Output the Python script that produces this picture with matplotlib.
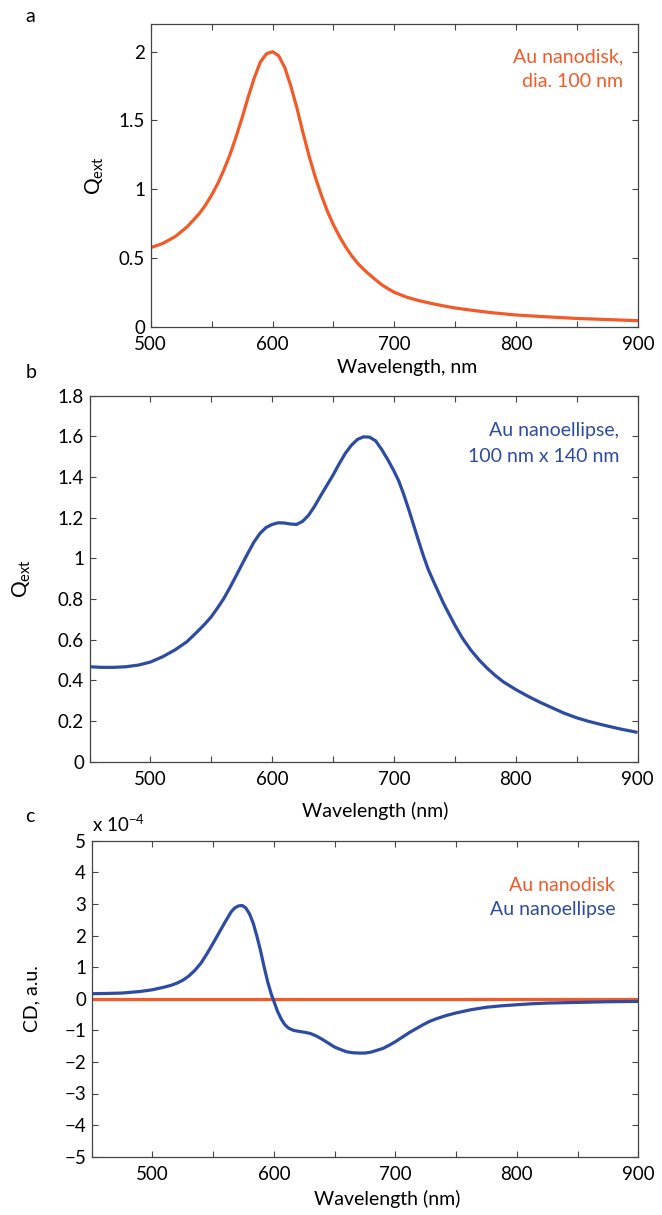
import matplotlib
matplotlib.use("Agg")
import matplotlib.pyplot as plt
from matplotlib.ticker import MultipleLocator, FuncFormatter

plt.rcParams['font.family'] = ['Lato', 'DejaVu Sans']
plt.rcParams['mathtext.default'] = 'regular'
plt.rcParams['axes.unicode_minus'] = True

# panel a: Au nanodisk extinction
wl_a = [500, 510, 520, 530, 540, 545, 550, 555, 560, 565, 570, 575, 580, 585, 590, 595,
        600, 605, 610, 615, 620, 625, 630, 635, 640, 645, 650, 655, 660, 665, 670, 675,
        680, 685, 690, 695, 700, 710, 720, 730, 740, 750, 765, 780, 800, 825, 850, 875, 900]
q_disk = [0.575, 0.606, 0.655, 0.727, 0.824, 0.885, 0.958, 1.04, 1.14, 1.25, 1.38, 1.52,
          1.67, 1.81, 1.925, 1.985, 2.0, 1.97, 1.885, 1.75, 1.59, 1.41, 1.24, 1.09, 0.958,
          0.84, 0.74, 0.655, 0.58, 0.515, 0.46, 0.415, 0.376, 0.338, 0.303, 0.275, 0.25,
          0.215, 0.19, 0.17, 0.152, 0.136, 0.118, 0.102, 0.085, 0.072, 0.06, 0.052, 0.044]

# panel b: Au nanoellipse extinction
wl_b = [450, 460, 470, 480, 490, 500, 510, 520, 530, 540, 545, 550, 555, 560, 565, 570,
        575, 580, 585, 590, 595, 600, 605, 610, 615, 620, 625, 630, 635, 640, 645, 650,
        655, 660, 665, 670, 675, 680, 685, 690, 695, 700, 704, 708, 712, 716, 720, 724,
        728, 733, 741, 750, 756, 763, 770, 777, 784, 790, 800, 810, 820, 831, 840, 850,
        860, 872, 885, 900]
q_ellipse = [0.467, 0.464, 0.464, 0.467, 0.475, 0.49, 0.516, 0.549, 0.59, 0.648, 0.679,
             0.713, 0.755, 0.80, 0.853, 0.91, 0.968, 1.025, 1.08, 1.123, 1.152, 1.167,
             1.175, 1.174, 1.169, 1.167, 1.182, 1.213, 1.258, 1.31, 1.36, 1.41, 1.465,
             1.516, 1.556, 1.585, 1.598, 1.596, 1.578, 1.535, 1.485, 1.43, 1.38, 1.315,
             1.243, 1.167, 1.09, 1.016, 0.948, 0.88, 0.775, 0.672, 0.61, 0.55, 0.5,
             0.457, 0.42, 0.392, 0.355, 0.322, 0.292, 0.262, 0.238, 0.216, 0.198, 0.18,
             0.162, 0.144]

# panel c: circular dichroism (x 1e-4)
wl_c = [450, 465, 475, 490, 500, 510, 515, 520, 525, 530, 535, 540, 545, 550, 555, 560,
        565, 568, 571, 574, 577, 580, 583, 586, 589, 592, 595, 598, 600, 603, 606, 609,
        612, 616, 620, 625, 630, 635, 640, 645, 650, 655, 660, 665, 670, 675, 680, 685,
        690, 695, 700, 706, 712, 717, 723, 728, 734, 742, 750, 762, 775, 787, 800, 812,
        825, 850, 875, 900]
cd_ellipse = [0.158, 0.17, 0.18, 0.23, 0.284, 0.37, 0.42, 0.49, 0.585, 0.72, 0.9, 1.13,
              1.43, 1.76, 2.1, 2.44, 2.76, 2.88, 2.94, 2.95, 2.87, 2.68, 2.39, 1.98, 1.52,
              1.0, 0.52, 0.126, -0.08, -0.4, -0.64, -0.82, -0.93, -1.0, -1.03, -1.06, -1.1,
              -1.18, -1.29, -1.41, -1.53, -1.61, -1.68, -1.71, -1.72, -1.72, -1.69, -1.63,
              -1.57, -1.47, -1.36, -1.21, -1.06, -0.95, -0.82, -0.72, -0.63, -0.53, -0.45,
              -0.35, -0.27, -0.225, -0.19, -0.16, -0.137, -0.116, -0.095, -0.084]
wl_disk_cd = [450, 900]
cd_disk = [0.0, 0.0]

orange = '#F25A28'
blue = '#2E4BA3'
fs_tick = 13.5
fs = 14


def style(ax):
    ax.tick_params(which='both', direction='in', top=True, right=True,
                   length=4, width=0.8, color='#444444', labelsize=fs_tick)
    ax.tick_params(axis='y', pad=4)
    ax.tick_params(axis='x', pad=7)
    for s in ax.spines.values():
        s.set_color('#444444')
        s.set_linewidth(0.9)
    ax.xaxis.set_major_locator(MultipleLocator(50))
    ax.xaxis.set_major_formatter(FuncFormatter(lambda v, p: '%d' % v if v % 100 == 0 else ''))


fig = plt.figure(figsize=(6.62, 12.15), dpi=100)
lkw = dict(lw=2.3, solid_joinstyle='round', solid_capstyle='butt')

# ---- a ----
ax1 = fig.add_axes([0.2277, 0.7311, 0.7361, 0.249])
ax1.plot(wl_a, q_disk, color=orange, **lkw)
ax1.set_xlim(500, 900)
ax1.set_ylim(0, 2.2)
ax1.set_yticks([0, 0.5, 1, 1.5, 2])
ax1.set_yticklabels(['0', '0.5', '1', '1.5', '2'])
style(ax1)
ax1.set_xlabel('Wavelength, nm', fontsize=fs)
ax1.xaxis.set_label_coords(0.527, -0.107)
ax1.set_ylabel('$Q_{ext}$', fontsize=fs + 1)
ax1.yaxis.set_label_coords(-0.0925, 0.5)
ax1.text(888, 1.96, 'Au nanodisk,', color=orange, fontsize=fs, ha='right', va='center')
ax1.text(888, 1.78, 'dia. 100 nm', color=orange, fontsize=fs, ha='right', va='center')
fig.text(30 / 662, 1 - 17 / 1215, 'a', fontsize=fs, ha='center', va='center')

# ---- b ----
ax2 = fig.add_axes([0.1352, 0.3731, 0.8278, 0.3012])
ax2.plot(wl_b, q_ellipse, color=blue, **lkw)
ax2.set_xlim(450, 900)
ax2.set_ylim(0, 1.8)
ax2.set_yticks([0, 0.2, 0.4, 0.6, 0.8, 1, 1.2, 1.4, 1.6, 1.8])
ax2.set_yticklabels(['0', '0.2', '0.4', '0.6', '0.8', '1', '1.2', '1.4', '1.6', '1.8'])
style(ax2)
ax2.set_xlabel('Wavelength (nm)', fontsize=fs)
ax2.xaxis.set_label_coords(0.521, -0.110)
ax2.set_ylabel('$Q_{ext}$', fontsize=fs + 1)
ax2.yaxis.set_label_coords(-0.103, 0.5)
ax2.text(885, 1.63, 'Au nanoellipse,', color=blue, fontsize=fs, ha='right', va='center')
ax2.text(885, 1.50, '100 nm x 140 nm', color=blue, fontsize=fs, ha='right', va='center')
fig.text(31 / 662, 1 - 373 / 1215, 'b', fontsize=fs, ha='center', va='center')

# ---- c ----
ax3 = fig.add_axes([0.1385, 0.048, 0.8257, 0.260])
ax3.plot(wl_disk_cd, cd_disk, color=orange, **lkw)
ax3.plot(wl_c, cd_ellipse, color=blue, **lkw)
ax3.set_xlim(450, 900)
ax3.set_ylim(-5, 5)
ax3.set_yticks(range(-5, 6))
style(ax3)
ax3.set_xlabel('Wavelength (nm)', fontsize=fs)
ax3.xaxis.set_label_coords(0.541, -0.104)
ax3.set_ylabel('CD, a.u.', fontsize=fs)
ax3.yaxis.set_label_coords(-0.093, 0.5)
ax3.text(881, 3.6, 'Au nanodisk', color=orange, fontsize=fs, ha='right', va='center')
ax3.text(881, 2.83, 'Au nanoellipse', color=blue, fontsize=fs, ha='right', va='center')
ax3.text(0.0, 1.02, 'x 10$^{\u22124}$', transform=ax3.transAxes, fontsize=fs_tick, ha='left', va='bottom')
fig.text(30 / 662, 1 - 817 / 1215, 'c', fontsize=fs, ha='center', va='center')

fig.savefig('out.png', dpi=100)
